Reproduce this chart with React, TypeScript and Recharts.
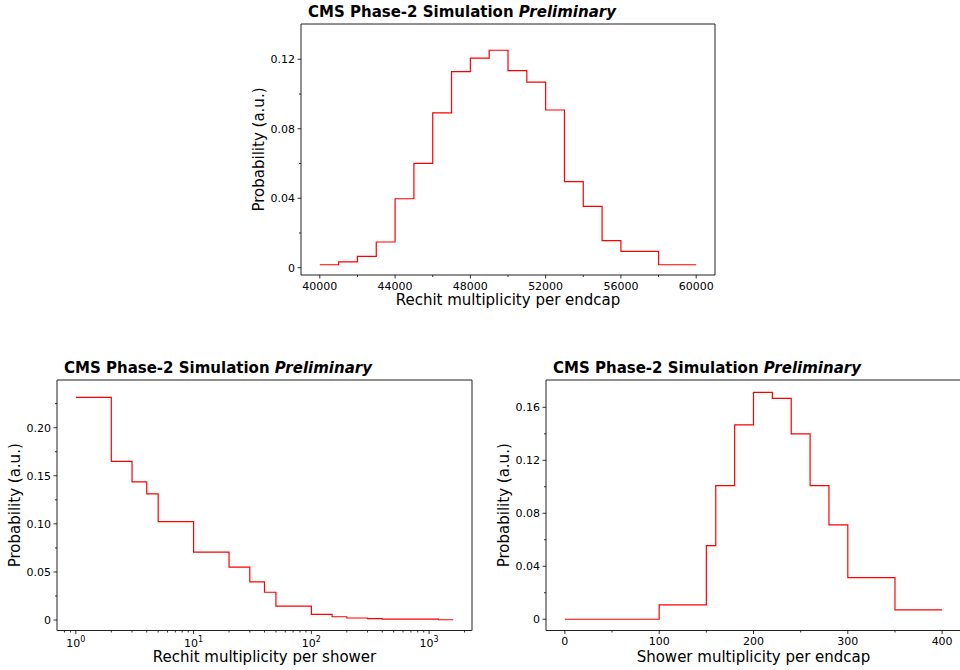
import React from "react";
import { LineChart, Line, XAxis, YAxis, ReferenceArea } from "recharts";

const FONT = "'DejaVu Sans', sans-serif";

// Rechit multiplicity per endcap (top)
const endcapEdges = [
  40000, 41000, 42000, 43000, 44000, 45000, 46000, 47000, 48000, 49000, 50000,
  51000, 52000, 53000, 54000, 55000, 56000, 58000, 60000,
];
const endcapProb = [
  0.0017, 0.0033, 0.0065, 0.0148, 0.0397, 0.0601, 0.0891, 0.1129, 0.1206,
  0.1252, 0.1135, 0.1068, 0.0908, 0.0495, 0.0353, 0.0156, 0.0094, 0.0017,
];
const endcapXTicks = [
  40000, 42000, 44000, 46000, 48000, 50000, 52000, 54000, 56000, 58000, 60000,
];
const endcapYTicks = [0, 0.02, 0.04, 0.06, 0.08, 0.1, 0.12];

// Rechit multiplicity per shower (bottom left, log x)
const showerEdges = [1, 2, 3, 4, 5, 10, 20, 30, 40, 50, 100, 150, 200, 300, 400, 1200, 1600];
const showerProb = [
  0.2316, 0.165, 0.1437, 0.1311, 0.1023, 0.0706, 0.055, 0.0397, 0.0289, 0.0145,
  0.0058, 0.0034, 0.0021, 0.0014, 0.001, 0.0003,
];
const showerXTicks = [
  0.8, 0.9, 1, 2, 3, 4, 5, 6, 7, 8, 9, 10, 20, 30, 40, 50, 60, 70, 80, 90, 100,
  200, 300, 400, 500, 600, 700, 800, 900, 1000, 2000,
];
const showerYTicks = [0, 0.025, 0.05, 0.075, 0.1, 0.125, 0.15, 0.175, 0.2, 0.225];

// Shower multiplicity per endcap (bottom right)
const nShowerEdges = [0, 100, 150, 160, 180, 200, 220, 240, 260, 280, 300, 350, 400];
const nShowerProb = [
  0, 0.0108, 0.0556, 0.1009, 0.1467, 0.1713, 0.1668, 0.1399, 0.1009, 0.0712,
  0.0314, 0.007,
];
const nShowerXTicks = [0, 50, 100, 150, 200, 250, 300, 350, 400];
const nShowerYTicks = [0, 0.02, 0.04, 0.06, 0.08, 0.1, 0.12, 0.14, 0.16];

// histogram edges -> step points (last value repeated at the final edge)
function toSteps(edges: number[], probs: number[]) {
  return edges.map((x, i) => ({ x, y: probs[Math.min(i, probs.length - 1)] }));
}

const fmtProb = (v: number) => (v === 0 ? "0" : v.toFixed(2));
const isMultiple = (v: number, step: number) =>
  Math.abs(v / step - Math.round(v / step)) < 1e-6;
const isDecade = (v: number) =>
  Math.abs(Math.log10(v) - Math.round(Math.log10(v))) < 1e-9;

function BottomTick(props: any) {
  const { x, y, payload, major, log } = props;
  const v = payload.value;
  const isMajor = major(v);
  return (
    <g>
      <line x1={x} x2={x} y1={y} y2={y + (isMajor ? 3.5 : 2)} stroke="#000" strokeWidth={0.8} />
      {isMajor && !log && (
        <text x={x} y={y + 14.5} textAnchor="middle" fontSize={11} fill="#000" fontFamily={FONT}>
          {v}
        </text>
      )}
      {isMajor && log && (
        <text x={x} y={y + 16} textAnchor="middle" fontSize={11} fill="#000" fontFamily={FONT}>
          <tspan>10</tspan>
          <tspan dy={-5} fontSize={8}>
            {Math.round(Math.log10(v))}
          </tspan>
        </text>
      )}
    </g>
  );
}

function LeftTick(props: any) {
  const { x, y, payload, major } = props;
  const v = payload.value;
  const isMajor = major(v);
  return (
    <g>
      <line x1={x - (isMajor ? 3.5 : 2)} x2={x} y1={y} y2={y} stroke="#000" strokeWidth={0.8} />
      {isMajor && (
        <text x={x - 6} y={y + 4} textAnchor="end" fontSize={11} fill="#000" fontFamily={FONT}>
          {fmtProb(v)}
        </text>
      )}
    </g>
  );
}

interface PanelProps {
  box: { left: number; top: number; width: number; height: number };
  plot: { l: number; t: number; r: number; b: number };
  data: { x: number; y: number }[];
  xDomain: [number, number];
  yDomain: [number, number];
  xTicks: number[];
  yTicks: number[];
  xMajor: (v: number) => boolean;
  yMajor: (v: number) => boolean;
  log?: boolean;
  xLabel: string;
  xLabelGap: number;
}

function Panel(p: PanelProps) {
  const { box, plot } = p;
  const margin = {
    top: plot.t - box.top,
    right: box.left + box.width - plot.r,
    left: 0,
    bottom: 0,
  };
  const yAxisWidth = plot.l - box.left;
  const xAxisHeight = box.top + box.height - plot.b;

  const yLabel = (lp: any) => {
    const { x, y, width, height } = lp.viewBox;
    const pl = x + width;
    const cx = pl - 37;
    const cy = y + height / 2;
    return (
      <g fontFamily={FONT} fill="#000">
        <text x={cx} y={cy} transform={`rotate(-90, ${cx}, ${cy})`} textAnchor="middle" fontSize={15}>
          Probability (a.u.)
        </text>
        <text x={pl + 7} y={y - 7} fontSize={15} fontWeight="bold">
          CMS Phase-2 Simulation{" "}
          <tspan fontStyle="italic">Preliminary</tspan>
        </text>
      </g>
    );
  };

  const xLabel = (lp: any) => {
    const { x, y, width } = lp.viewBox;
    return (
      <text x={x + width / 2} y={y + p.xLabelGap} textAnchor="middle" fontSize={15} fill="#000" fontFamily={FONT}>
        {p.xLabel}
      </text>
    );
  };

  return (
    <div
      style={{
        position: "absolute",
        left: box.left,
        top: box.top,
        width: box.width,
        height: box.height,
      }}
    >
      <LineChart width={box.width} height={box.height} data={p.data} margin={margin}>
        <XAxis
          dataKey="x"
          type="number"
          scale={p.log ? "log" : "linear"}
          domain={p.xDomain}
          allowDataOverflow
          ticks={p.xTicks}
          interval={0}
          height={xAxisHeight}
          axisLine={false}
          tickLine={false}
          tickSize={0}
          tickMargin={0}
          tick={(tp: any) => <BottomTick {...tp} major={p.xMajor} log={p.log} />}
          label={{ content: xLabel }}
        />
        <YAxis
          type="number"
          domain={p.yDomain}
          allowDataOverflow
          ticks={p.yTicks}
          interval={0}
          width={yAxisWidth}
          axisLine={false}
          tickLine={false}
          tickSize={0}
          tickMargin={0}
          tick={(tp: any) => <LeftTick {...tp} major={p.yMajor} />}
          label={{ content: yLabel }}
        />
        <Line
          type="stepAfter"
          dataKey="y"
          stroke="#ff0000"
          strokeWidth={1.2}
          dot={false}
          activeDot={false}
          isAnimationActive={false}
        />
        <ReferenceArea
          x1={p.xDomain[0]}
          x2={p.xDomain[1]}
          y1={p.yDomain[0]}
          y2={p.yDomain[1]}
          fill="none"
          stroke="#222"
          strokeWidth={1}
          ifOverflow="visible"
        />
      </LineChart>
    </div>
  );
}

export default function App() {
  return (
    <div
      style={{
        position: "absolute",
        left: 0,
        top: 0,
        width: 960,
        height: 670,
        overflow: "hidden",
        background: "#fff",
      }}
    >
      <Panel
        box={{ left: 240, top: 0, width: 480, height: 315 }}
        plot={{ l: 301, t: 24, r: 715, b: 275 }}
        data={toSteps(endcapEdges, endcapProb)}
        xDomain={[39000, 61000]}
        yDomain={[-0.0042, 0.1403]}
        xTicks={endcapXTicks}
        yTicks={endcapYTicks}
        xMajor={(v) => isMultiple(v, 4000)}
        yMajor={(v) => isMultiple(v, 0.04)}
        xLabel="Rechit multiplicity per endcap"
        xLabelGap={30}
      />
      <Panel
        box={{ left: 0, top: 345, width: 480, height: 325 }}
        plot={{ l: 57, t: 380, r: 472, b: 630.5 }}
        data={toSteps(showerEdges, showerProb)}
        xDomain={[Math.pow(10, -0.16), Math.pow(10, 3.364)]}
        yDomain={[-0.0109, 0.2496]}
        xTicks={showerXTicks}
        yTicks={showerYTicks}
        xMajor={isDecade}
        yMajor={(v) => isMultiple(v, 0.05)}
        log
        xLabel="Rechit multiplicity per shower"
        xLabelGap={31.5}
      />
      <Panel
        box={{ left: 480, top: 345, width: 490, height: 325 }}
        plot={{ l: 546, t: 380, r: 961, b: 630.5 }}
        data={toSteps(nShowerEdges, nShowerProb)}
        xDomain={[-20, 420]}
        yDomain={[-0.0085, 0.1806]}
        xTicks={nShowerXTicks}
        yTicks={nShowerYTicks}
        xMajor={(v) => isMultiple(v, 100)}
        yMajor={(v) => isMultiple(v, 0.04)}
        xLabel="Shower multiplicity per endcap"
        xLabelGap={31.5}
      />
    </div>
  );
}
